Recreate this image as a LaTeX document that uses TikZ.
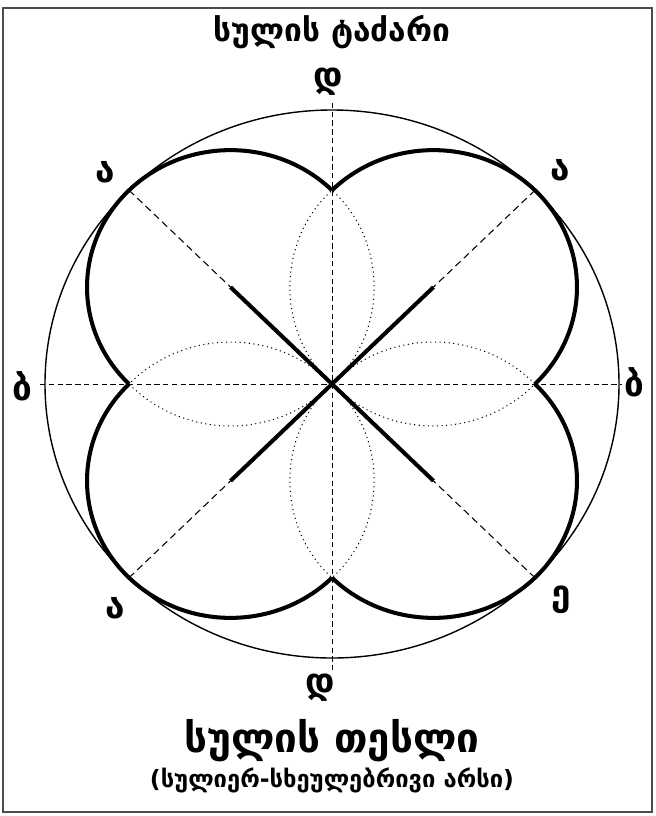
\documentclass[tikz,border=0pt]{standalone}
\usepackage{fontspec}
\setmainfont{DejaVu Sans}
\usetikzlibrary{positioning}

\begin{document}
\begin{tikzpicture}[x=5.74cm, y=5.48cm,
    lobe/.style={line width=2.3pt},
    axisline/.style={line width=0.5pt, dash pattern=on 3pt off 2pt},
    diagline/.style={line width=0.6pt, dash pattern=on 4pt off 2.5pt},
    lens/.style={line width=0.6pt, dotted},
    letter/.style={font=\fontsize{20}{22}\selectfont\bfseries, inner sep=0pt}]

        % Page frame
        \useasboundingbox (-1.1568, 1.4015) rectangle (1.1289, -1.5766);
        \draw[black!70, line width=0.8pt] (-1.1463, 1.3723) rectangle (1.1150, -1.5620);

        % Centre and lobe centres
        \coordinate (o) at (0, 0);
        \coordinate (ul) at (-0.3536, 0.3536);
        \coordinate (ur) at (0.3536, 0.3536);
        \coordinate (ll) at (-0.3536, -0.3536);
        \coordinate (lr) at (0.3536, -0.3536);

        % Points where the lobes meet
        \coordinate (top) at (0, 0.7071);
        \coordinate (bot) at (0, -0.7071);
        \coordinate (lft) at (-0.7071, 0);
        \coordinate (rgt) at (0.7071, 0);

        % Outer circle
        \draw[line width=0.8pt] (o) circle[radius=1];

        % Axes
        \draw[axisline] (0, 1.026) -- (0, -1.051);
        \draw[axisline] (-1.017, 0) -- (1.01, 0);

        % Diagonals (dashed outside, thick inside)
        \draw[diagline] (-0.7071, 0.7071) -- (ul);
        \draw[diagline] (0.7071, 0.7071) -- (ur);
        \draw[diagline] (-0.7071, -0.7071) -- (ll);
        \draw[diagline] (0.7071, -0.7071) -- (lr);
        \draw[lobe] (ul) -- (lr);
        \draw[lobe] (ur) -- (ll);

        % Dotted lenses
        \draw[lens] (o) to[bend left=48] (top) to[bend left=48] (o);
        \draw[lens] (o) to[bend left=48] (bot) to[bend left=48] (o);
        \draw[lens] (o) to[bend left=45] (lft) to[bend left=45] (o);
        \draw[lens] (o) to[bend left=45] (rgt) to[bend left=45] (o);

        % Four lobes
        \draw[lobe] (top) arc[start angle=45, end angle=225, radius=0.5];
        \draw[lobe] (lft) arc[start angle=135, end angle=315, radius=0.5];
        \draw[lobe] (bot) arc[start angle=225, end angle=405, radius=0.5];
        \draw[lobe] (rgt) arc[start angle=-45, end angle=135, radius=0.5];

        % Letters round the circle
        \node[letter] (dtop) at (-0.014, 1.102) {დ};
        \node[letter] (aul) at (-0.791, 0.774) {ა};
        \node[letter] (aur) at (0.794, 0.781) {ა};
        \node[letter] (blft) at (-1.080, -0.007) {ბ};
        \node[letter] (brgt) at (1.052, 0.007) {ბ};
        \node[letter] (all) at (-0.756, -0.818) {ა};
        \node[letter] (elr) at (0.798, -0.788) {ე};
        \node[letter] (dbot) at (-0.042, -1.109) {დ};

        % Titles
        \node[font=\fontsize{18}{21}\selectfont\bfseries] (title) at (0, 1.285) {სულის ტაძარი};
        \node[font=\fontsize{23}{26}\selectfont\bfseries] (seed) at (0, -1.303) {სულის თესლი};
        \node[font=\fontsize{13.5}{16}\selectfont\bfseries] (essence) at (0, -1.445) {(სულიერ-სხეულებრივი არსი)};
    \end{tikzpicture}
\end{document}
